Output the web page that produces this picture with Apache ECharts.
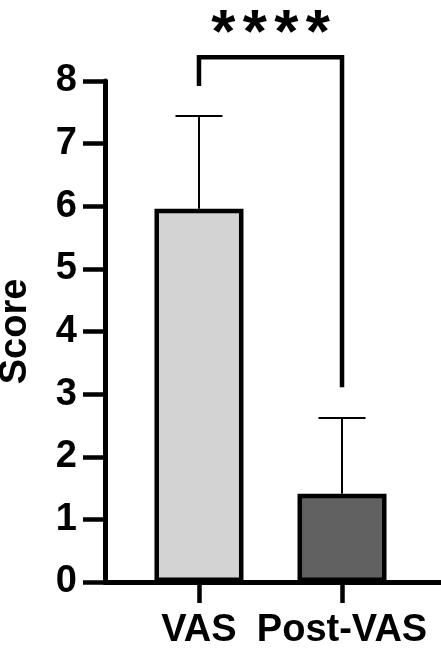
<!DOCTYPE html>
<html>
<head>
<meta charset="utf-8">
<script src="https://cdn.jsdelivr.net/npm/echarts@6/dist/echarts.min.js"></script>
<style>
html,body{margin:0;padding:0;background:#fff;}
#c{width:441px;height:654px;}
</style>
</head>
<body>
<div id="c"></div>
<script>
// ---- data ----
const categories = ['VAS', 'Post-VAS'];
const means = [5.96, 1.41];
const upperErr = [7.44, 2.62];
const barColors = ['#d3d3d3', '#616161'];
const yTicks = [0, 1, 2, 3, 4, 5, 6, 7, 8];
const sigLabel = '****';
const bracketLeftY = 7.92;
const bracketTopY = 8.38;
const bracketRightY = 3.11;
const sigLabelY = 8.73;

const FONT = 'Liberation Sans, Arial, sans-serif';
const chart = echarts.init(document.getElementById('c'), null, {renderer: 'canvas'});

const barData = means.map((v, i) => ({
  value: [i, v],
  itemStyle: {color: barColors[i], borderColor: '#000', borderWidth: 4.5}
}));
const errData = means.map((v, i) => [i, v, upperErr[i]]);

chart.setOption({
  animation: false,
  grid: {left: 105, right: 0, top: 81, bottom: 72, containLabel: false, outerBoundsMode: 'none'},
  xAxis: {
    type: 'value',
    min: -0.657,
    max: 1.692,
    splitLine: {show: false},
    axisLine: {show: true, onZero: false, lineStyle: {color: '#000', width: 5}},
    axisTick: {show: true, customValues: [0, 1], length: 21, lineStyle: {color: '#000', width: 4.5}},
    axisLabel: {
      show: true, customValues: [0, 1], margin: 30,
      formatter: v => categories[Math.round(v)],
      color: '#000', fontSize: 38, fontWeight: 'bold', fontFamily: FONT
    }
  },
  yAxis: {
    type: 'value',
    min: yTicks[0], max: yTicks[yTicks.length - 1], interval: 1,
    name: 'Score', nameLocation: 'middle', nameGap: 70,
    nameTextStyle: {color: '#000', fontSize: 38, fontWeight: 'bold', fontFamily: FONT},
    splitLine: {show: false},
    axisLine: {show: true, onZero: false, lineStyle: {color: '#000', width: 5}},
    axisTick: {show: true, length: 22, lineStyle: {color: '#000', width: 4.5}},
    axisLabel: {margin: 28, color: '#000', fontSize: 38, fontWeight: 'bold', fontFamily: FONT}
  },
  series: [
    {
      type: 'custom',
      z: 1,
      clip: false,
      data: errData,
      renderItem: function (params, api) {
        const x = api.value(0);
        const p0 = api.coord([x, api.value(1)]);
        const p1 = api.coord([x, api.value(2)]);
        const half = 23.5;
        return {
          type: 'group',
          children: [
            {type: 'line', shape: {x1: p0[0], y1: p0[1], x2: p1[0], y2: p1[1]}, style: {stroke: '#000', lineWidth: 2}},
            {type: 'line', shape: {x1: p1[0] - half, y1: p1[1], x2: p1[0] + half, y2: p1[1]}, style: {stroke: '#000', lineWidth: 2}}
          ]
        };
      }
    },
    {
      type: 'bar',
      z: 2,
      barWidth: 89,
      data: barData
    },
    {
      type: 'custom',
      z: 3,
      clip: false,
      data: [[0, 1]],
      renderItem: function (params, api) {
        const a = api.coord([0, bracketLeftY]);
        const b = api.coord([0, bracketTopY]);
        const c = api.coord([1, bracketTopY]);
        const d = api.coord([1, bracketRightY]);
        const t = api.coord([0.5, sigLabelY]);
        const children = [{
          type: 'polyline',
          shape: {points: [a, b, c, d]},
          style: {stroke: '#000', lineWidth: 4.5, fill: null, lineJoin: 'miter'}
        }];
        const chars = sigLabel.split('');
        const step = 31.5;
        chars.forEach((ch, i) => {
          children.push({
            type: 'text',
            x: t[0] + (i - (chars.length - 1) / 2) * step,
            y: t[1],
            style: {text: ch, fill: '#000', font: 'bold 62px ' + FONT, align: 'center', verticalAlign: 'middle'}
          });
        });
        return {type: 'group', children: children};
      }
    }
  ]
});
</script>
</body>
</html>
